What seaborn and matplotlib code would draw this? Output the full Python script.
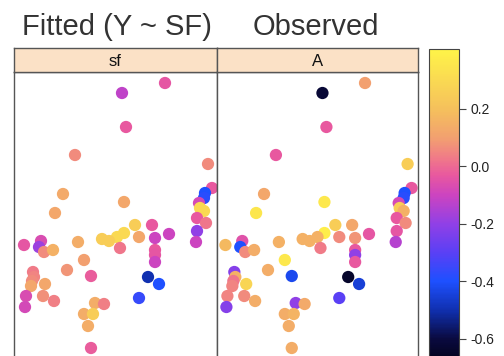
import numpy as np
import pandas as pd
import seaborn as sns
import matplotlib.pyplot as plt
from matplotlib.colors import LinearSegmentedColormap, Normalize
from matplotlib.cm import ScalarMappable

# point positions (panel units) and colour values for the two panels
x = [149, 106, 110, 59, 192, 196, 189, 188, 47, 108, 39, 183, 184, 188, 181,
     190, 181, 180, 119, 136, 139, 153, 123, 108, 101, 93, 86, 104, 62, 8,
     25, 23, 28, 37, 139, 139, 139, 68, 51, 75, 132, 143, 123, 17, 18, 16,
     15, 29, 10, 27, 38, 9, 79, 88, 68, 77, 72, 75]
y = [285, 275, 241, 213, 204, 180, 175, 170, 174, 166, 155, 165, 160, 157, 150,
     145, 137, 126, 143, 143, 130, 134, 131, 135, 131, 127, 129, 120, 126, 123,
     127, 121, 116, 118, 118, 113, 106, 108, 98, 92, 91, 84, 70, 96, 91, 87,
     82, 84, 72, 72, 67, 61, 65, 64, 54, 54, 42, 20]
fitted = [-0.04, -0.12, -0.03, 0.06, 0.06, -0.03, -0.40, -0.38, 0.13, 0.12,
          0.12, -0.08, 0.30, 0.30, -0.03, 0.02, -0.20, -0.10, 0.25, -0.03,
          -0.10, -0.10, 0.12, 0.30, 0.30, 0.25, 0.25, 0.02, 0.14, -0.04,
          -0.07, -0.18, 0.06, 0.15, -0.03, -0.04, -0.10, 0.10, 0.08, -0.02,
          -0.50, -0.40, -0.36, 0.03, 0.05, 0.06, 0.12, 0.12, -0.07, 0.07,
          0.04, -0.08, 0.14, 0.04, 0.14, 0.25, 0.14, -0.02]
observed = [0.10, -0.62, -0.03, -0.03, 0.25, -0.03, -0.40, -0.38, 0.12, 0.36,
            0.35, -0.08, 0.25, 0.15, -0.03, 0.06, -0.04, -0.14, 0.25, 0.12,
            0.08, -0.04, 0.06, 0.38, 0.15, 0.15, 0.15, 0.03, 0.15, 0.18,
            -0.05, -0.40, 0.06, 0.14, -0.03, -0.20, -0.03, 0.36, 0.14, -0.42,
            -0.64, -0.45, -0.30, -0.22, 0.15, 0.02, 0.05, 0.28, 0.05, 0.06,
            0.14, -0.22, -0.20, 0.13, 0.14, 0.16, 0.14, 0.14]

panels = ['sf', 'A']
cbar_ticks = [-0.6, -0.4, -0.2, 0.0, 0.2]
cbar_labels = ['-0.6', '-0.4', '-0.2', '0.0', '0.2']

vmin, vmax = -0.70, 0.41
stops = [(-0.70, '#000010'), (-0.60, '#0a0a40'), (-0.50, '#1030b0'),
         (-0.40, '#1e50ff'), (-0.30, '#5a40f5'), (-0.20, '#9040e6'),
         (-0.10, '#cc44c0'), (-0.03, '#e8589f'), (0.03, '#f07a88'),
         (0.10, '#f2a070'), (0.20, '#f5c05c'), (0.41, '#fff448')]
cmap = LinearSegmentedColormap.from_list(
    'lat', [((v - vmin) / (vmax - vmin), c) for v, c in stops])
norm = Normalize(vmin, vmax)

df = pd.DataFrame({'x': x, 'y': y, 'sf': fitted, 'A': observed})

plt.rcParams['font.family'] = ['Liberation Sans', 'DejaVu Sans']
W, H = 504, 356
fig = plt.figure(figsize=(W / 100, H / 100), dpi=100)

frame = '#555555'
lefts = [14, 217]
width = [203, 201]
for i, name in enumerate(panels):
    ax = fig.add_axes([lefts[i] / W, (H - 368) / H, width[i] / W, 296 / H])
    sns.scatterplot(data=df, x='x', y='y', hue=name, palette=cmap, hue_norm=norm,
                    s=78, linewidth=0, legend=False, ax=ax)
    ax.set_xlim(-2 + i * 1.5, 201 + i * 1.5)
    ax.set_ylim(0, 296)
    ax.set_xticks([])
    ax.set_yticks([])
    ax.set_xlabel('')
    ax.set_ylabel('')
    for sp in ax.spines.values():
        sp.set_color(frame)
        sp.set_linewidth(1)

    st = fig.add_axes([lefts[i] / W, (H - 72) / H, width[i] / W, 24 / H])
    st.set_facecolor('#fbe1c6')
    st.set_xticks([])
    st.set_yticks([])
    for sp in st.spines.values():
        sp.set_color(frame)
        sp.set_linewidth(1)
    st.text(0.5, 0.45, name, ha='center', va='center', fontsize=12, color='#111111',
            transform=st.transAxes)

cax = fig.add_axes([429 / W, (H - 367.75) / H, 30 / W, 319.15 / H])
cb = fig.colorbar(ScalarMappable(norm=norm, cmap=cmap), cax=cax)
cb.set_ticks(cbar_ticks)
cb.set_ticklabels(cbar_labels)
cb.ax.tick_params(length=5, width=0.8, color='#444444', labelsize=10,
                  labelcolor='#222222', pad=3)
cb.outline.set_edgecolor('#444444')
cb.outline.set_linewidth(0.8)

fig.text(22 / W, (H - 35) / H, 'Fitted (Y ~ SF)', fontsize=21, color='#333333',
         ha='left', va='baseline')
fig.text(253 / W, (H - 35) / H, 'Observed', fontsize=21, color='#333333',
         ha='left', va='baseline')

fig.savefig('out.png', dpi=100)
